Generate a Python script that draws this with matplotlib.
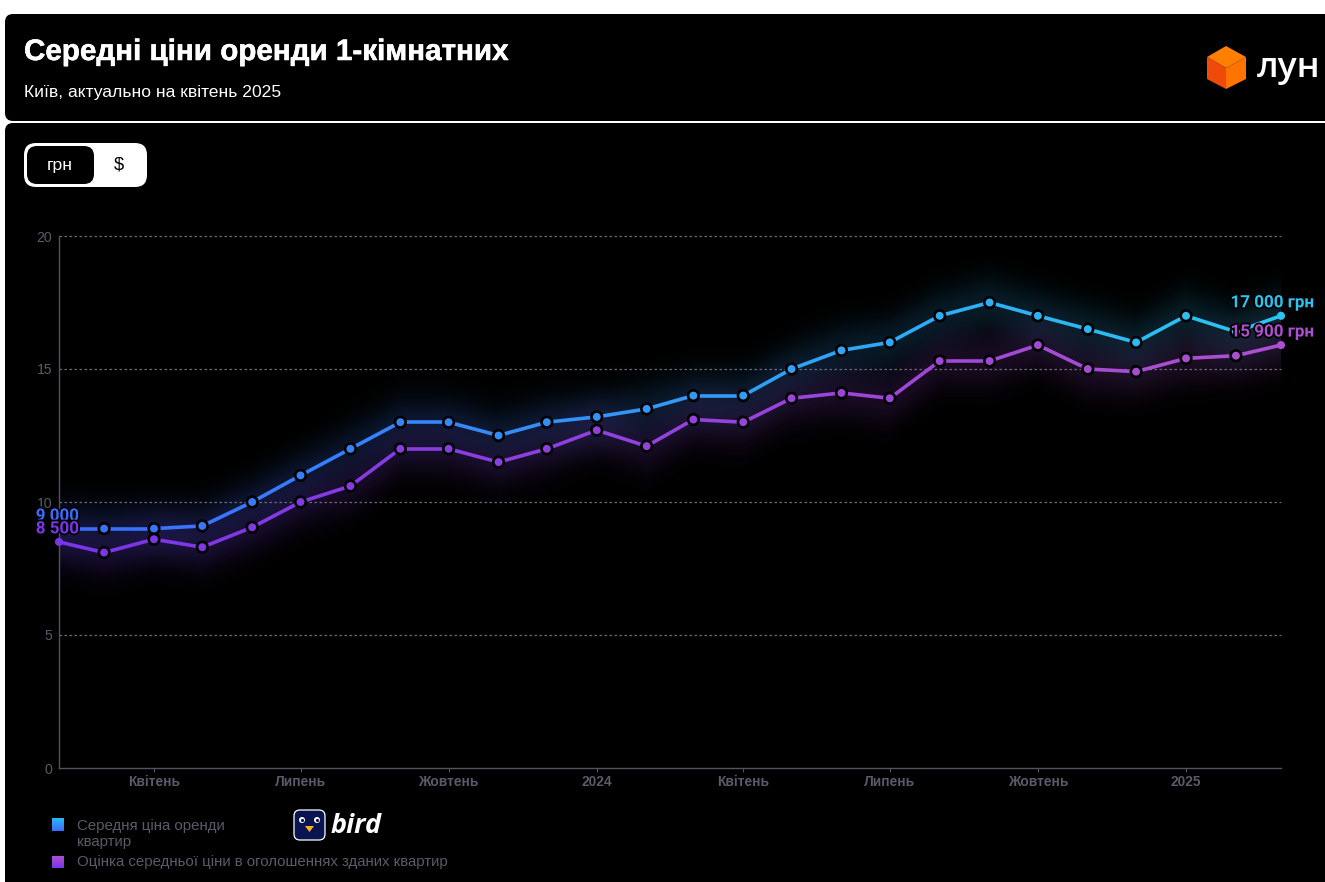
import matplotlib
matplotlib.use('Agg')
import matplotlib.pyplot as plt
import matplotlib.dates as mdates
import matplotlib.patheffects as pe
from matplotlib.collections import LineCollection
from matplotlib.colors import to_rgb, LinearSegmentedColormap
from matplotlib.patches import FancyBboxPatch, Polygon, Circle
import numpy as np
import pandas as pd

W, H = 1325, 882

# Data (thousand UAH per month)
months = pd.date_range('2023-02-01', '2025-03-01', freq='MS')
rent_avg = [9, 9, 9, 9.1, 10, 11, 12, 13, 13, 12.5, 13, 13.2, 13.5,
            14, 14, 15, 15.7, 16, 17, 17.5, 17, 16.5, 16, 17, 16.4, 17]
rent_listed = [8.5, 8.1, 8.6, 8.3, 9.05, 10, 10.6, 12, 12, 11.5, 12, 12.7, 12.1,
               13.1, 13, 13.9, 14.1, 13.9, 15.3, 15.3, 15.9, 15, 14.9, 15.4, 15.5, 15.9]
y_ticks = [0, 5, 10, 15, 20]
x_ticks = ['2023-04-01', '2023-07-01', '2023-10-01', '2024-01-01',
           '2024-04-01', '2024-07-01', '2024-10-01', '2025-01-01']
x_labels = ['Квітень', 'Липень', 'Жовтень', '2024', 'Квітень', 'Липень', 'Жовтень', '2025']
legend_labels = ['Середня ціна оренди\nквартир', 'Оцінка середньої ціни в оголошеннях зданих квартир']
first_labels = ['9 000', '8 500']
last_labels = ['17 000 грн', '15 900 грн']

BLUE_L, BLUE_R = '#3a6cff', '#29c5f2'
PURPLE_L, PURPLE_R = '#7a35e8', '#ad4fd0'
GRID = '#6b6b78'
AXIS = '#53535f'
MUTED = '#5a5a6a'


def px(size):
    # font size in pixels -> points at dpi 100
    return size * 0.72


def mix(c1, c2, t):
    a, b = np.array(to_rgb(c1)), np.array(to_rgb(c2))
    return a + (b - a) * t


def glow_layer(ax, x, y, c1, c2, sigma=1.05, peak=0.16):
    # Soft halo round the line: an RGBA image, alpha falls off with distance in y
    gx = np.linspace(x[0], x[-1], 700)
    gy = np.linspace(0, 20, 500)
    centre = np.interp(gx, x, y)
    dist = gy[:, None] - centre[None, :]
    img = np.zeros((len(gy), len(gx), 4))
    t = np.linspace(0, 1, len(gx))[:, None]
    img[:, :, :3] = np.array(to_rgb(c1)) + (np.array(to_rgb(c2)) - np.array(to_rgb(c1))) * t
    img[:, :, 3] = peak * np.exp(-(dist / sigma) ** 2)
    ax.imshow(img, extent=(x[0], x[-1], 0, 20), origin='lower', aspect='auto', zorder=0.5,
              interpolation='bilinear')


def gradient_line(ax, x, y, c1, c2):
    pts = np.column_stack([x, y]).reshape(-1, 1, 2)
    segs = np.concatenate([pts[:-1], pts[1:]], axis=1)
    cols = [mix(c1, c2, i / (len(segs) - 1)) for i in range(len(segs))]
    line = LineCollection(segs, colors=cols, linewidths=2.6, capstyle='round', zorder=3)
    ax.add_collection(line)
    dots = [mix(c1, c2, i / (len(x) - 1)) for i in range(len(x))]
    edges = ['none'] + ['black'] * (len(x) - 2) + ['none']
    sizes = [34] + [58] * (len(x) - 2) + [34]
    ax.scatter(x, y, s=sizes, c=dots, edgecolors=edges, linewidths=1.9, zorder=4, clip_on=False)


fig = plt.figure(figsize=(W / 100, H / 100), dpi=100, facecolor='white')

# Background layer in pixel coordinates: cards, toggle, logos, legend
bg = fig.add_axes([0, 0, 1, 1], zorder=0)
bg.axis('off')

bg.add_patch(FancyBboxPatch((5 + 8, 14 + 8), W, 107 - 16, boxstyle='round,pad=8', fc='black', ec='none'))
bg.add_patch(FancyBboxPatch((5 + 8, 123 + 8), W, H, boxstyle='round,pad=8', fc='black', ec='none'))

title = bg.text(24, 52, 'Середні ціни оренди 1-кімнатних', color='white', fontsize=px(29.6),
                fontweight='bold', family='Liberation Sans', va='center')
title.set_path_effects([pe.withStroke(linewidth=0.4, foreground='white')])
bg.text(24, 92, 'Київ, актуально на квітень 2025', color='white', fontsize=px(17.5),
        family='Liberation Sans', va='center')

# Toggle
bg.add_patch(FancyBboxPatch((24 + 12, 143 + 12), 123 - 24, 44 - 24, boxstyle='round,pad=12', fc='white', ec='none'))
bg.add_patch(FancyBboxPatch((27 + 10, 146 + 10), 67 - 20, 38 - 20, boxstyle='round,pad=10', fc='black', ec='none'))
bg.text(60, 165.5, 'грн', color='white', fontsize=px(17.5), family='Liberation Sans', ha='center', va='center')
bg.text(119, 165, '$', color='black', fontsize=px(18.5), family='Liberation Sans', ha='center', va='center')

# LUN logo
bg.add_patch(Polygon([(1226, 46), (1246, 57), (1226, 68), (1207, 57)], fc='#ff7f00', ec='none'))
bg.add_patch(Polygon([(1246, 57), (1246, 79), (1226, 89), (1226, 68)], fc='#ff7300', ec='none'))
bg.add_patch(Polygon([(1207, 57), (1226, 68), (1226, 89), (1207, 79)], fc='#f04a0a', ec='none'))
bg.text(1257, 68, 'лун', color='white', fontsize=px(35.5), family='Open Sans', fontweight='semibold', va='center')

# Bird logo
bg.add_patch(FancyBboxPatch((294 + 6, 810 + 6), 31 - 12, 30 - 12, boxstyle='round,pad=6', fc='#0a1450', ec='white', lw=0.9))
for ex in [302, 317]:
    bg.add_patch(Circle((ex, 820), 3, fc='white', ec='none'))
    bg.add_patch(Circle((ex + 0.5, 820.5), 1.6, fc='#0a1450', ec='none'))
bg.add_patch(Polygon([(305, 826), (314, 826), (309.5, 832)], fc='#ffb020', ec='none'))
bg.text(331, 826, 'bird', color='white', fontsize=px(27), fontweight='bold', style='italic',
        family='Open Sans', va='center')

# Legend
bg.imshow(np.linspace(0, 1, 32).reshape(-1, 1), extent=(52, 64, 831, 818), aspect='auto', zorder=2,
          cmap=LinearSegmentedColormap.from_list('a', ['#29b8f5', '#3a6cff']))
bg.imshow(np.linspace(0, 1, 32).reshape(-1, 1), extent=(52, 64, 868, 856), aspect='auto', zorder=2,
          cmap=LinearSegmentedColormap.from_list('b', ['#ad4fd0', '#7a35e8']))
bg.set_xlim(0, W)
bg.set_ylim(H, 0)
bg.text(77, 834, legend_labels[0], color=MUTED, fontsize=px(15), family='Liberation Sans',
        va='center', linespacing=1.25)
bg.text(77, 862, legend_labels[1], color=MUTED, fontsize=px(15), family='Liberation Sans', va='center')

# Chart
ax = fig.add_axes([59 / W, 1 - 768 / H, (1281 - 59) / W, (768 - 236) / H], zorder=1)
ax.patch.set_alpha(0)
x = mdates.date2num(months)

glow_layer(ax, x, rent_avg, BLUE_L, BLUE_R)
glow_layer(ax, x, rent_listed, PURPLE_L, PURPLE_R)

ax.set_xlim(x[0], x[-1])
ax.set_ylim(0, 20)
for s in ['top', 'right']:
    ax.spines[s].set_visible(False)
for s in ['left', 'bottom']:
    ax.spines[s].set_color(AXIS)
    ax.spines[s].set_linewidth(1.0)

ax.set_yticks(y_ticks)
ax.set_xticks(mdates.date2num(pd.to_datetime(x_ticks)))
ax.set_xticklabels(x_labels, fontweight='bold', family='Liberation Sans', fontsize=px(13.8), color=MUTED)
ax.tick_params(axis='x', length=3, width=0.8, color=AXIS, pad=2)
ax.tick_params(axis='y', length=0, pad=5, labelsize=px(14), labelcolor=MUTED)
for t in ax.get_yticklabels():
    t.set_family('Liberation Sans')
for v in y_ticks[1:]:
    ax.axhline(v, color=GRID, lw=0.9, dashes=(2, 2), zorder=1, clip_on=False)

gradient_line(ax, x, rent_avg, BLUE_L, BLUE_R)
gradient_line(ax, x, rent_listed, PURPLE_L, PURPLE_R)

# End labels, outlined in black like the original
stroke = [pe.withStroke(linewidth=2.5, foreground='black')]
label_font = dict(ha='right', va='center', fontsize=px(17), fontweight='bold', family='Roboto',
                  textcoords='offset points', path_effects=stroke, zorder=6, annotation_clip=False)
ax.annotate(first_labels[0], (x[0], rent_avg[0]), xytext=(20 * 0.72, 12.5 * 0.72), color=BLUE_L, **label_font)
ax.annotate(first_labels[1], (x[0], rent_listed[0]), xytext=(20 * 0.72, 13 * 0.72), color=PURPLE_L, **label_font)
ax.annotate(last_labels[0], (x[-1], rent_avg[-1]), xytext=(33 * 0.72, 13 * 0.72), color=BLUE_R, **label_font)
ax.annotate(last_labels[1], (x[-1], rent_listed[-1]), xytext=(33 * 0.72, 13 * 0.72), color=PURPLE_R, **label_font)

fig.savefig('out.png', dpi=100, facecolor='white')
